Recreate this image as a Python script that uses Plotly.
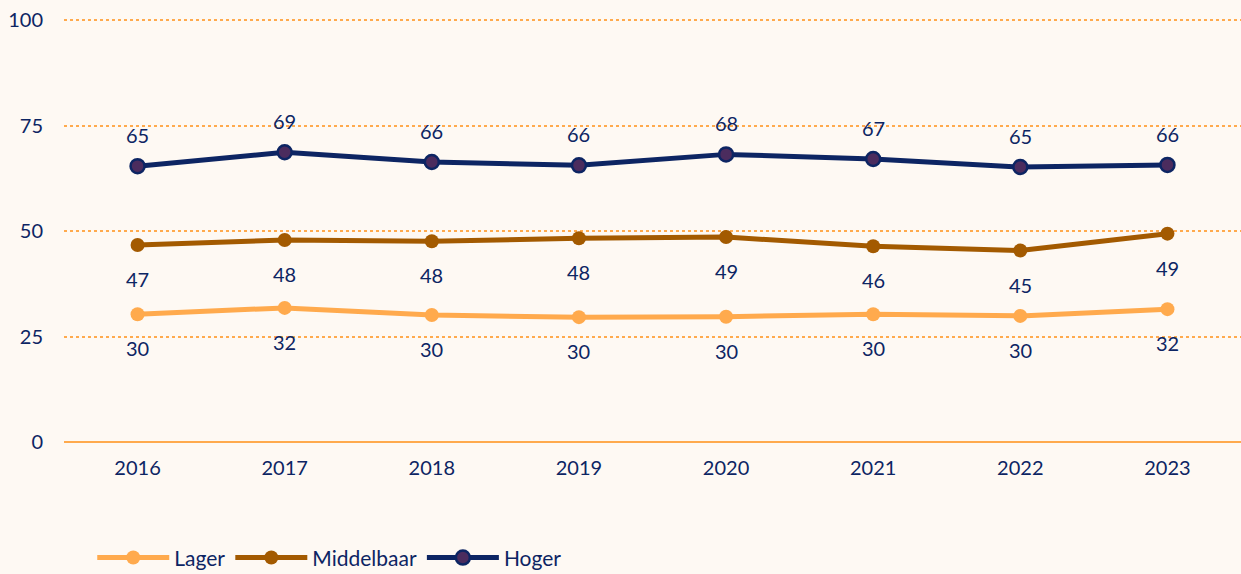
import plotly.graph_objects as go

years = ["2016", "2017", "2018", "2019", "2020", "2021", "2022", "2023"]
lager = [30.3, 31.8, 30.1, 29.6, 29.7, 30.3, 29.9, 31.5]
middelbaar = [46.7, 47.9, 47.6, 48.3, 48.6, 46.4, 45.4, 49.4]
hoger = [65.4, 68.7, 66.4, 65.6, 68.2, 67.1, 65.2, 65.7]
y_ticks = [0, 25, 50, 75, 100]

NAVY = "#0D2563"
BG = "#FEF9F3"
series = [
    ("Lager", lager, "#FFAA4D", dict(color="#FFAA4D", size=14), -34),
    ("Middelbaar", middelbaar, "#A35A00", dict(color="#A35A00", size=14), -34),
    ("Hoger", hoger, "#0D2563", dict(color="#4B2C5E", size=14, line=dict(color=NAVY, width=2.5)), 31),
]

fig = go.Figure()
annotations = []
for name, vals, col, mk, shift in series:
    fig.add_trace(go.Scatter(
        x=years, y=vals, name=name, mode="lines+markers",
        line=dict(color=col, width=5), marker=mk, cliponaxis=False,
    ))
    for i, v in enumerate(vals):
        annotations.append(dict(
            x=i, y=v, xref="x", yref="y", text=str(round(v)), showarrow=False, yshift=shift,
            font=dict(size=20, color=NAVY, family="Lato"),
        ))

fig.update_layout(
    width=1241, height=574,
    paper_bgcolor=BG, plot_bgcolor=BG,
    margin=dict(l=64, r=0, t=19, b=132, autoexpand=False),
    font=dict(family="Lato", color=NAVY, size=20),
    annotations=annotations,
    showlegend=True,
    legend=dict(orientation="h", x=0.024, xanchor="left", y=-0.274, yanchor="middle",
                font=dict(size=21, color=NAVY, family="Lato"), bgcolor="rgba(0,0,0,0)",
                itemwidth=72),
    xaxis=dict(type="category", range=[-0.5, 7.5], showgrid=False, showline=False,
               zeroline=False, ticks="", ticklabelstandoff=12,
               tickfont=dict(size=20, color=NAVY)),
    yaxis=dict(range=[0, 100.3], tickvals=y_ticks, showgrid=True, gridcolor="#FFAA4D",
               griddash="dot", gridwidth=1.5, zeroline=True, zerolinecolor="#FFAA4D",
               zerolinewidth=2, showline=False, ticks="", ticklabelstandoff=20,
               tickfont=dict(size=20, color=NAVY)),
)
fig.write_html("out.html", config={"displayModeBar": False},
               post_script="document.body.style.margin='0';")
